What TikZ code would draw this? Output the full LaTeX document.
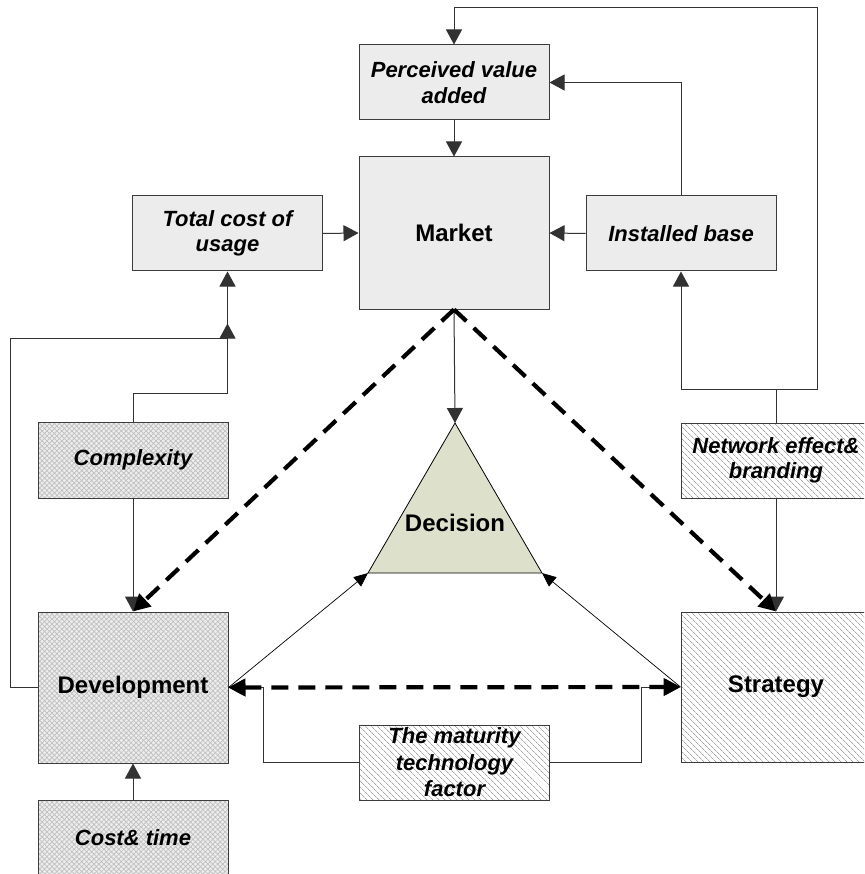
\documentclass[tikz,border=0pt]{standalone}
\usepackage{fontspec}
\setmainfont{Liberation Sans}
\usetikzlibrary{arrows.meta,patterns.meta}
\definecolor{boxline}{RGB}{60,60,60}
\definecolor{linegray}{RGB}{50,50,50}
\definecolor{lightfill}{RGB}{236,236,236}
\definecolor{decfill}{RGB}{221,224,203}
\begin{document}
\begin{tikzpicture}[x=1pt,y=-1pt,
  every node/.style={inner sep=0pt, align=center},
  boxtext/.style={font=\fontsize{22}{25.5}\selectfont\bfseries\itshape},
  titletext/.style={font=\fontsize{24}{28}\selectfont\bfseries},
  lightbox/.style={draw=boxline, line width=1pt, fill=lightfill, minimum width=190pt},
  meshbox/.style={draw=boxline, line width=1pt, preaction={fill=gray!14},
    pattern={Hatch[angle=45,distance=3.5pt,line width=0.7pt]}, pattern color=gray!50, minimum width=190pt},
  hatchbox/.style={draw=boxline, line width=1pt, preaction={fill=white},
    pattern={Lines[angle=-45,distance=4pt,line width=0.7pt]}, pattern color=gray!70, minimum width=190pt},
  conn/.style={draw=linegray, line width=1pt, -{Triangle[length=15pt,width=16pt]}},
  thinconn/.style={draw=black, line width=0.7pt, -{Triangle[length=14pt,width=12pt]}},
  bigdash/.style={draw=black, line width=4.2pt, dash pattern=on 17pt off 10pt, -{Triangle[length=17pt,width=17pt]}},
]
\clip (0,0) rectangle (864,874);
\fill[white] (0,0) rectangle (864,874);

% upper market cluster
\node[lightbox, boxtext, minimum height=75pt] (perc) at (454,82.5) {Perceived value\\added};
\node[lightbox, titletext, minimum height=152pt] (market) at (454,233) {Market};
\node[lightbox, boxtext, minimum height=75pt] (tcost) at (227.5,233.5) {Total cost of\\usage};
\node[lightbox, boxtext, minimum height=75pt] (inst) at (681,233.5) {Installed base};

% development side
\node[meshbox, boxtext, minimum height=76pt] (compl) at (133,460) {Complexity};
\node[meshbox, titletext, minimum height=151pt] (dev) at (133,687.5) {Development};
\node[meshbox, boxtext, minimum height=76pt] (costt) at (133,838) {Cost\& time};

% strategy side
\node[hatchbox, boxtext, minimum height=75pt] (netw) at (776,460.5) {Network effect\&\\branding};
\node[hatchbox, titletext, minimum height=150pt] (strat) at (776,687) {Strategy};
\node[hatchbox, minimum height=75pt, font=\fontsize{22}{26.5}\selectfont\bfseries\itshape] (matur) at (454.5,762.5) {The maturity\\technology\\factor};

% decision triangle
\coordinate (dtop) at (455,423);
\coordinate (dleft) at (368,573);
\coordinate (dright) at (542,573);
\filldraw[fill=decfill, draw=black, line width=0.8pt] (dtop) -- (dright) -- (dleft) -- cycle;
\node[titletext] (dec) at (455,523) {Decision};

% routing points
\coordinate (lfar) at (10,338);
\coordinate (topr) at (817,8);

% connectors of the market cluster
\draw[conn] (perc.south) -- (market.north);
\draw[conn] (tcost.east) -- (market.west);
\draw[conn] (inst.west) -- (market.east);
\draw[conn] (inst.north) |- (perc.east);
\draw[conn] (netw.north) -- ++(0,-33) -| (inst.south);
\draw[conn] (netw.north) -- ++(0,-33) -| (topr) -| (perc.north);
\draw[conn] (compl.north) -- ++(0,-28) -| ([yshift=-52pt]tcost.south);
\draw[conn] (dev.west) -| (lfar) -| (tcost.south);
\draw[conn] (market.south) -- (dtop);

% connectors of the lower part
\draw[conn] (compl.south) -- (dev.north);
\draw[conn] (costt.north) -- (dev.south);
\draw[conn] (netw.south) -- (strat.north);
\draw[conn] (matur.west) -| ([xshift=35pt]dev.east) -- (dev.east);
\draw[conn] (matur.east) -| ([xshift=-39pt]strat.west) -- (strat.west);
\draw[thinconn] (dev.east) -- (dleft);
\draw[thinconn] (strat.west) -- (dright);

% heavy dashed links
\draw[bigdash] (market.south) -- (dev.north);
\draw[bigdash] (market.south) -- (strat.north);
\draw[bigdash, {Triangle[length=17pt,width=17pt]}-{Triangle[length=17pt,width=17pt]}] (dev.east) -- (strat.west);
\end{tikzpicture}
\end{document}
